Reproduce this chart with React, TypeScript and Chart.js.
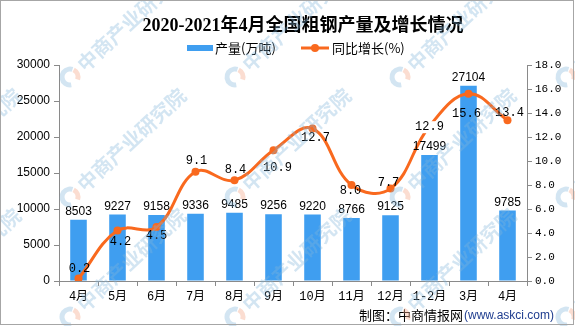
import React, { useEffect, useRef } from 'react';
import { Chart, registerables } from 'chart.js';

Chart.register(...registerables);

const categories = ['4月', '5月', '6月', '7月', '8月', '9月', '10月', '11月', '12月', '1-2月', '3月', '4月'];
const output = [8503, 9227, 9158, 9336, 9485, 9256, 9220, 8766, 9125, 17499, 27104, 9785];
const growth = [0.2, 4.2, 4.5, 9.1, 8.4, 10.9, 12.7, 8.0, 7.7, 12.9, 15.6, 13.4];
const leftMax = 30000;
const leftStep = 5000;
const rightMax = 18;
const rightStep = 2;
const titleText = '2020-2021年4月全国粗钢产量及增长情况';
const seriesNames = ['产量(万吨)', '同比增长(%)'];
const sourceMain = '制图：中商情报网';
const sourceUrl = '(www.askci.com)';
const watermarkText = '中商产业研究院';

// label placement (style): [dx, dy] relative to each line point
const growthLabelOffset: [number, number][] = [
  [1, -10], [3, 11], [0, 9], [1, -11], [1, -10], [4, 18],
  [3, 9], [-1, 6], [-2, -6], [0, 1], [-2, 20], [2, -7],
];

const BAR = '#3f9ef0';
const LINE = '#f9691e';
const AXIS = '#8a8a8a';
const CJK = '"Noto Sans CJK SC"';
const WM = 'rgba(130,180,217,0.35)';

export default function App() {
  const ref = useRef<HTMLCanvasElement | null>(null);

  useEffect(() => {
    document.body.style.margin = '0';
    const canvas = ref.current!;
    const decor = {
      id: 'decor',
      beforeDraw(chart: any) {
        const ctx = chart.ctx;
        ctx.save();
        ctx.fillStyle = '#fff';
        ctx.fillRect(0, 0, chart.width, chart.height);
        ctx.restore();
      },
      afterDatasetsDraw(chart: any) {
        const ctx = chart.ctx;
        ctx.save();
        const barMeta = chart.getDatasetMeta(0);
        ctx.fillStyle = '#000';
        ctx.font = '12px "Liberation Sans", Arial, sans-serif';
        ctx.textAlign = 'center';
        ctx.textBaseline = 'alphabetic';
        barMeta.data.forEach((bar: any, i: number) => {
          ctx.fillText(String(output[i]), bar.x, bar.y - 5);
        });
        const lineMeta = chart.getDatasetMeta(1);
        ctx.font = '12px "Liberation Mono", monospace';
        ctx.textBaseline = 'middle';
        lineMeta.data.forEach((pt: any, i: number) => {
          const [dx, dy] = growthLabelOffset[i];
          const txt = growth[i].toFixed(1);
          const x = pt.x + dx;
          const y = pt.y + dy;
          if (i === 9) {
            const w = ctx.measureText(txt).width;
            ctx.fillStyle = '#fff';
            ctx.fillRect(x - w / 2 - 1, y - 6, w + 2, 12);
          }
          ctx.fillStyle = '#000';
          ctx.fillText(txt, x, y);
        });
        ctx.restore();
      },
      afterDraw(chart: any) {
        const ctx = chart.ctx;
        ctx.save();
        ctx.fillStyle = '#000';
        ctx.textBaseline = 'middle';
        ctx.textAlign = 'center';
        ctx.font = `bold 18px "Liberation Serif", ${CJK}, serif`;
        ctx.fillText(titleText, 303, 26);
        ctx.textAlign = 'left';
        ctx.fillStyle = BAR;
        ctx.fillRect(187, 45, 26, 6);
        ctx.fillStyle = '#000';
        ctx.font = `13px ${CJK}, sans-serif`;
        ctx.fillText(seriesNames[0], 215, 48);
        ctx.strokeStyle = LINE;
        ctx.lineWidth = 3;
        ctx.beginPath();
        ctx.moveTo(301, 48);
        ctx.lineTo(329, 48);
        ctx.stroke();
        ctx.fillStyle = LINE;
        ctx.beginPath();
        ctx.arc(315, 48, 4, 0, Math.PI * 2);
        ctx.fill();
        ctx.fillStyle = '#000';
        ctx.fillText(seriesNames[1], 332, 48);
        ctx.font = `13px ${CJK}, sans-serif`;
        ctx.fillText(sourceMain, 359, 315);
        const w = ctx.measureText(sourceMain).width;
        ctx.fillStyle = '#1f3d8f';
        ctx.font = '12px "Liberation Sans", Arial, sans-serif';
        ctx.fillText(sourceUrl, 359 + w + 1, 316);
        const xs = [-95, 70, 235, 400, 566];
        const ys = [77, 197, 317];
        for (const wy of ys) {
          for (const wx of xs) {
            ctx.save();
            ctx.translate(wx, wy);
            ctx.lineWidth = 5;
            ctx.strokeStyle = WM;
            ctx.beginPath();
            ctx.arc(0, 0, 8, Math.PI * 0.45, Math.PI * 1.6);
            ctx.stroke();
            ctx.strokeStyle = 'rgba(245,170,140,0.4)';
            ctx.beginPath();
            ctx.arc(0, 0, 8, Math.PI * 1.65, Math.PI * 2.1);
            ctx.stroke();
            ctx.rotate(-43 * Math.PI / 180);
            ctx.fillStyle = WM;
            ctx.font = `bold 20px ${CJK}, sans-serif`;
            ctx.textBaseline = 'middle';
            ctx.textAlign = 'left';
            ctx.fillText(watermarkText, 14, 0);
            ctx.restore();
          }
        }
        ctx.strokeStyle = '#a6a6a6';
        ctx.lineWidth = 1;
        ctx.strokeRect(0.5, 0.5, 573, 324);
        ctx.restore();
      },
    };

    const chart = new Chart(canvas, {
      type: 'bar',
      data: {
        labels: categories,
        datasets: [
          {
            type: 'bar',
            label: seriesNames[0],
            data: output,
            backgroundColor: BAR,
            yAxisID: 'y',
            categoryPercentage: 1,
            barPercentage: 0.425,
            order: 2,
          },
          {
            type: 'line',
            label: seriesNames[1],
            data: growth,
            yAxisID: 'y1',
            borderColor: LINE,
            backgroundColor: LINE,
            borderWidth: 3,
            tension: 0.4,
            pointRadius: growth.map((_, i) => (i === 9 ? 0 : 4)),
            pointBackgroundColor: LINE,
            pointBorderWidth: 0,
            order: 1,
          } as any,
        ],
      },
      options: {
        responsive: false,
        animation: false,
        devicePixelRatio: 1,
        layout: { padding: { top: 65, left: 0, right: 0, bottom: 0 } },
        plugins: { legend: { display: false }, title: { display: false }, tooltip: { enabled: false } },
        scales: {
          x: {
            offset: true,
            grid: { offset: true, drawOnChartArea: false, drawTicks: true, tickLength: 5, color: AXIS },
            border: { color: AXIS },
            ticks: { color: '#000', padding: 4, maxRotation: 0, autoSkip: false, font: { family: `"Liberation Mono", ${CJK}`, size: 12 } },
            afterFit: (s: any) => { s.height = 45; },
          },
          y: {
            position: 'left',
            min: 0,
            max: leftMax,
            ticks: { stepSize: leftStep, color: '#000', padding: 4, callback: (v: any) => String(v), font: { family: '"Liberation Sans", Arial', size: 12 } },
            grid: { drawOnChartArea: false, drawTicks: true, tickLength: 5, color: AXIS },
            border: { color: AXIS },
            afterFit: (s: any) => { s.width = 59; },
          },
          y1: {
            position: 'right',
            min: 0,
            max: rightMax,
            ticks: { stepSize: rightStep, color: '#000', padding: 3, callback: (v: any) => Number(v).toFixed(1), font: { family: '"Liberation Mono", monospace', size: 11 } },
            grid: { drawOnChartArea: false, drawTicks: true, tickLength: 5, color: AXIS },
            border: { color: AXIS },
            afterFit: (s: any) => { s.width = 48; },
          },
        },
      } as any,
      plugins: [decor],
    });
    return () => chart.destroy();
  }, []);

  return (
    <div style={{ width: 575, height: 326 }}>
      <canvas ref={ref} width={575} height={326} style={{ display: 'block' }} />
    </div>
  );
}
